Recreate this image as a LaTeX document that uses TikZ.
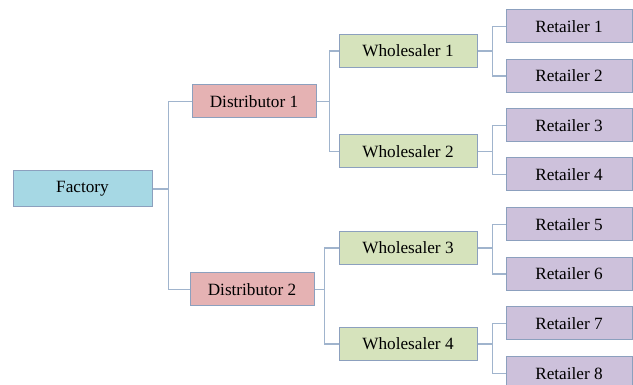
\documentclass[tikz,border=0pt]{standalone}
\usepackage{fontspec}
\setmainfont{Liberation Serif}
\definecolor{facfill}{RGB}{166,216,228}
\definecolor{disfill}{RGB}{229,178,179}
\definecolor{whofill}{RGB}{214,227,188}
\definecolor{retfill}{RGB}{205,193,219}
\definecolor{bordc}{RGB}{140,160,190}
\definecolor{linec}{RGB}{160,180,205}
\tikzset{
  box/.style={draw=bordc, line width=1pt, rectangle, inner sep=0pt, font=\fontsize{17.2}{20}\selectfont, text=black},
  facbox/.style={box, fill=facfill, minimum width=139pt, minimum height=36pt},
  disbox/.style={box, fill=disfill, minimum width=124pt, minimum height=33pt},
  whobox/.style={box, fill=whofill, minimum width=138pt, minimum height=33pt},
  retbox/.style={box, fill=retfill, minimum width=126pt, minimum height=33pt},
  link/.style={draw=linec, line width=1.1pt},
}
\begin{document}
\begin{tikzpicture}[x=1pt,y=-1pt]
\useasboundingbox (0,0) rectangle (633,385);
\node[facbox] (F) at (82.5,189) {Factory};
\node[disbox] (D1) at (254,101.5) {Distributor 1};
\node[disbox] (D2) at (252,289.5) {Distributor 2};
\node[whobox] (W1) at (408,51) {Wholesaler 1};
\node[whobox] (W2) at (408,151.5) {Wholesaler 2};
\node[whobox] (W3) at (408,248) {Wholesaler 3};
\node[whobox] (W4) at (408,344) {Wholesaler 4};
\node[retbox] (R1) at (569,26.5) {Retailer 1};
\node[retbox] (R2) at (569,76) {Retailer 2};
\node[retbox] (R3) at (569,125.5) {Retailer 3};
\node[retbox] (R4) at (569,174.5) {Retailer 4};
\node[retbox] (R5) at (569,224.5) {Retailer 5};
\node[retbox] (R6) at (569,274) {Retailer 6};
\node[retbox] (R7) at (569,323.5) {Retailer 7};
\node[retbox] (R8) at (569,373.5) {Retailer 8};
\path[link] (F.east) -- ++(16,0) |- (D1.west);
\path[link] (F.east) -- ++(16,0) |- (D2.west);
\path[link] (D1.east) -- ++(13,0) |- (W1.west);
\path[link] (D1.east) -- ++(13,0) |- (W2.west);
\path[link] (D2.east) -- ++(10,0) |- (W3.west);
\path[link] (D2.east) -- ++(10,0) |- (W4.west);
\path[link] (W1.east) -- ++(15,0) |- (R1.west);
\path[link] (W1.east) -- ++(15,0) |- (R2.west);
\path[link] (W2.east) -- ++(15,0) |- (R3.west);
\path[link] (W2.east) -- ++(15,0) |- (R4.west);
\path[link] (W3.east) -- ++(15,0) |- (R5.west);
\path[link] (W3.east) -- ++(15,0) |- (R6.west);
\path[link] (W4.east) -- ++(15,0) |- (R7.west);
\path[link] (W4.east) -- ++(15,0) |- (R8.west);
\end{tikzpicture}
\end{document}
